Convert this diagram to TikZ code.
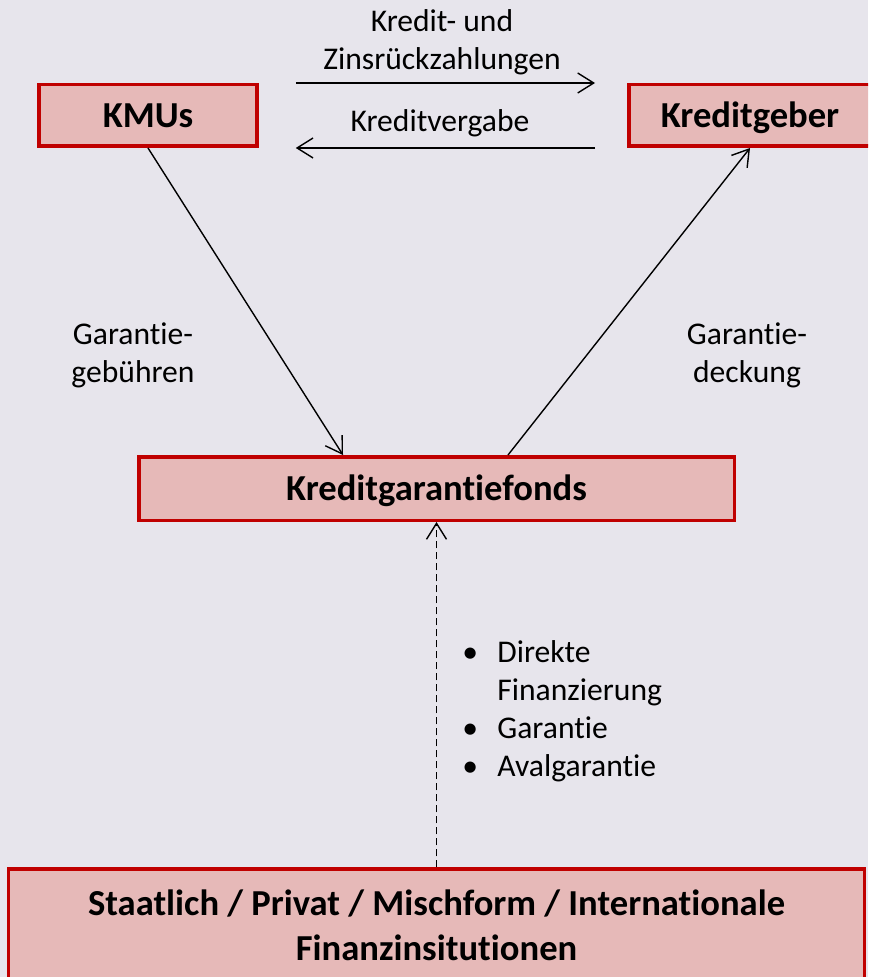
\documentclass[tikz,border=0pt]{standalone}
\usepackage{fontspec}
\setmainfont{Carlito}[Ligatures={NoCommon}]
\usetikzlibrary{arrows.meta,calc}
\definecolor{bgc}{RGB}{231,229,236}
\definecolor{boxfill}{RGB}{230,185,184}
\definecolor{boxline}{RGB}{192,0,0}
\begin{document}
\begin{tikzpicture}[x=0.5pt,y=-0.5pt,
  box/.style={draw=boxline,fill=boxfill,line width=1.75pt,inner sep=0pt,font=\fontsize{18.3}{22.5}\selectfont\bfseries,align=center},
  onebox/.style={box,text height=13pt,text depth=0.8pt},
  lbl/.style={font=\fontsize{15.8}{19}\selectfont,align=center,inner sep=0pt},
  arr/.style={line width=0.7pt,-{Straight Barb[length=8pt,width=10pt]}}]
\clip (0,0) rectangle (868,977);
\fill[bgc] (0,0) rectangle (868,977);
\node[onebox,minimum width=109pt,minimum height=30.75pt] (kmu) at (148,115.5) {KMUs};
\node[onebox,minimum width=121.25pt,minimum height=30.75pt] (kg) at (750,115.5) {Kreditgeber};
\node[onebox,minimum width=297.75pt,minimum height=31.75pt] (fonds) at (436.5,488.5) {Kreditgarantiefonds};
\node[box,minimum width=428pt,minimum height=56pt] (base) at (436.5,925) {Staatlich / Privat / Mischform / Internationale\\Finanzinsitutionen};
\draw[arr] ($(kmu.north east)+(37,0)$) -- ($(kg.north west)+(-32,0)$);
\draw[arr] ($(kg.south west)+(-32,0)$) -- ($(kmu.south east)+(37,0)$);
\draw[arr] (kmu.south) -- ($(fonds.north west)+(206,0)$);
\draw[arr] ($(fonds.north west)+(371,0)$) -- (kg.south);
\draw[arr,dash pattern=on 3.5pt off 2pt] (base.north) -- (fonds.south);
\node[lbl] (l1) at (442,42) {Kredit- und\\Zinsrückzahlungen};
\node[lbl] (l2) at (440,123) {Kreditvergabe};
\node[lbl] (l3) at (133,355) {Garantie-\\gebühren};
\node[lbl] (l4) at (747,355) {Garantie-\\deckung};
\node[lbl,anchor=base west,align=left] (l5) at (462,662) {\begin{tabular}[t]{@{}l@{}}\makebox[17.5pt][l]{•}Direkte\\\hspace{17.5pt}Finanzierung\\\makebox[17.5pt][l]{•}Garantie\\\makebox[17.5pt][l]{•}Avalgarantie\end{tabular}};
\end{tikzpicture}
\end{document}
